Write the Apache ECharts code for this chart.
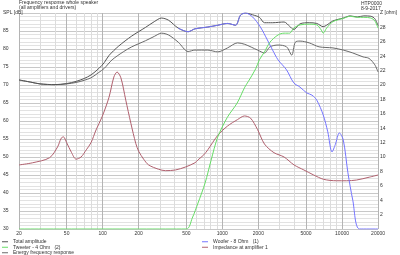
<!DOCTYPE html>
<html>
<head>
<meta charset="utf-8">
<script src="https://cdn.jsdelivr.net/npm/echarts@6/dist/echarts.min.js"></script>
<style>
html, body { margin: 0; padding: 0; background: #fff; }
#chart { width: 400px; height: 255px; }
</style>
</head>
<body>
<div id="chart"></div>
<script>
// x axis (Hz): labelled grid lines and the light lines in between
var freqLabels = [20, 50, 100, 200, 500, 1000, 2000, 5000, 10000, 20000];
var freqMinor = [30, 40, 60, 70, 80, 90, 300, 400, 600, 700, 800, 900,
    3000, 4000, 6000, 7000, 8000, 9000];

// [Hz, dB]
var totalAmp = [[20,71.4],[25,70.8],[30,70.3],[40,70.1],[50,70.4],[60,71],[70,71.8],[80,72.8],
    [93,74.6],[103,76.2],[113,78.2],[136,80.8],[175,83.6],[228,86],[270,87.6],[310,88.6],[355,88],
    [428,85.8],[518,84.8],[590,85.6],[756,86.1],[915,86.6],[1105,87.1],[1290,86.6],[1418,89.4],
    [1560,90],[1790,89.5],[2040,88.8],[2250,87.3],[2630,87.3],[3280,87.5],[3650,86.3],[3950,85.4],
    [4460,87],[5320,87.3],[6150,87.1],[6960,86.2],[7430,86.6],[8400,87.8],[10250,88.6],[11700,89.2],
    [13400,88.9],[15200,89.2],[17400,89.1],[18800,88.4],[20000,86.5]];

var energyResp = [[20,71.4],[25,70.8],[30,70.3],[40,70.1],[50,70.3],[60,70.7],[70,71.3],[80,72],
    [93,73.5],[103,74.6],[120,77],[150,79.3],[175,80.6],[228,82.3],[270,83.5],[310,84.4],[355,83.9],
    [428,81.9],[518,79.3],[590,79.7],[756,79.7],[915,79.2],[1105,80.3],[1340,81.7],[1540,81.3],
    [1970,79.7],[2250,78.9],[2500,80.6],[2920,81.1],[3440,80.6],[3800,78.3],[4070,81.9],[4460,82.2],
    [5320,81.7],[6430,80.6],[8400,80.3],[10250,79.7],[12300,78.9],[15000,77.8],[16800,77.4],
    [18800,75.6],[20000,73.6]];

var woofer = [[428,85.8],[518,84.8],[590,85.6],[756,86.1],[915,86.6],[1105,87.1],[1290,86.6],
    [1418,89.4],[1560,90],[1790,88.9],[2080,86.1],[2380,82.5],[2630,79.7],[2920,77],[3440,74.2],
    [3950,70.6],[4460,69.4],[5070,67.8],[5600,67.2],[6150,65.8],[6960,61.7],[7600,57],[8250,51.4],
    [8800,53.5],[9500,56.7],[10250,54.7],[11200,45.6],[12300,38],[14000,30],[20000,30]];

var tweeter = [[20,30],[500,30],[560,33],[626,37.2],[718,42.8],[804,49],[914,55.5],[1100,61],
    [1330,65],[1540,69.4],[1650,71],[1900,74.5],[2040,77],[2250,79.2],[2500,81.9],[2920,83.9],
    [3280,84.4],[3650,84.4],[3950,85.8],[4460,86.7],[5320,86.9],[6150,86.7],[6700,85.3],[6960,84.4],
    [7430,85.8],[8400,87.6],[10250,88.5],[11700,89.1],[13400,88.8],[15200,88.8],[17400,88.6],
    [18800,87.8],[20000,85.8]];

// [Hz, ohm]
var impedance = [[20,8.9],[26,9.2],[36,9.9],[42,11.4],[45,12.6],[47,12.8],[50,12],[55,10.6],
    [60,9.7],[66,10],[73,11],[80,12],[88,13.75],[99,15.6],[113,18.3],[124,21.1],[132,21.8],
    [142,21],[156,17.9],[172,14.7],[189,11.9],[200,10.8],[220,9.7],[242,8.9],[293,8.3],[335,8.1],
    [406,8.2],[490,8.6],[591,9.2],[626,9.6],[700,10.3],[756,11],[915,13],[1105,14.3],[1340,15.2],
    [1530,15.7],[1720,15.4],[1970,13.8],[2250,11.8],[2700,10.6],[3280,10],[3970,8.9],[4800,8.2],
    [5800,7.5],[7020,6.9],[9000,6.7],[10900,6.7],[13200,6.8],[16900,7.2],[20000,7.5]];

var txt = '#333';
var lg = Math.log10;

var chart = echarts.init(document.getElementById('chart'));

function line(name, data, color, yIdx) {
    return {
        name: name, type: 'line', data: data, xAxisIndex: 0, yAxisIndex: yIdx || 0,
        showSymbol: false, smooth: 0.3, color: color,
        lineStyle: {width: 1, color: color}
    };
}

chart.setOption({
    animation: false,
    backgroundColor: '#fff',
    title: [{
        text: 'Frequency response whole speaker',
        subtext: '(all amplifiers and drivers)',
        left: 19, top: 0, padding: 0, itemGap: 0,
        textStyle: {fontSize: 5, fontWeight: 'normal', color: txt, fontFamily: 'Liberation Sans'},
        subtextStyle: {fontSize: 5, color: txt, fontFamily: 'Liberation Sans'}
    }, {
        text: 'HTP0000',
        subtext: '8-9-2017',
        right: 18, top: 1, padding: 0, itemGap: 0,
        textStyle: {fontSize: 5, fontWeight: 'normal', color: txt, fontFamily: 'Liberation Sans'},
        subtextStyle: {fontSize: 5, color: txt, fontFamily: 'Liberation Sans'}
    }],
    legend: [{
        data: ['Total amplitude', 'Tweeter - 4 Ohm   (2)', 'Energy frequency response'],
        orient: 'vertical', left: 2, top: 239, height: 18, padding: 0, itemGap: 0,
        itemWidth: 6, itemHeight: 1, icon: 'rect',
        textStyle: {fontSize: 5, lineHeight: 5.5, color: txt, fontFamily: 'Liberation Sans'}
    }, {
        data: ['Woofer - 8 Ohm   (1)', 'Impedance at amplifier 1'],
        orient: 'vertical', left: 202, top: 239, height: 18, padding: 0, itemGap: 0,
        itemWidth: 6, itemHeight: 1, icon: 'rect',
        textStyle: {fontSize: 5, lineHeight: 5.5, color: txt, fontFamily: 'Liberation Sans'}
    }],
    grid: {left: 19, right: 17, top: 13, bottom: 26, containLabel: false},
    xAxis: [{
        // the frequency scale the curves are drawn on
        type: 'log', logBase: 10, min: 20, max: 20000, position: 'bottom',
        axisLine: {show: false}, axisTick: {show: false}, axisLabel: {show: false},
        splitLine: {show: false}
    }, {
        // labelled grid lines, same pixel range in log space
        type: 'value', min: lg(20), max: lg(20000), position: 'bottom',
        axisLine: {show: false},
        axisTick: {show: false, customValues: freqLabels.map(lg)},
        axisLabel: {
            customValues: freqLabels.map(lg), fontSize: 5, color: txt, margin: 2,
            fontFamily: 'Liberation Sans',
            formatter: function (v) { return String(Math.round(Math.pow(10, v))); }
        },
        splitLine: {show: true, lineStyle: {color: '#b4b4b4', width: 1}}
    }, {
        type: 'value', min: lg(20), max: lg(20000), position: 'bottom',
        axisLine: {show: false},
        axisTick: {show: false, customValues: freqMinor.map(lg)},
        axisLabel: {show: false},
        splitLine: {show: true, lineStyle: {color: '#dcdcdc', width: 1}}
    }],
    yAxis: [{
        type: 'value', min: 30, max: 90, interval: 5,
        axisLine: {show: false}, axisTick: {show: false},
        axisLabel: {
            fontSize: 5, color: txt, align: 'left', margin: 16, fontFamily: 'Liberation Sans',
            formatter: function (v) { return v === 90 ? 'SPL [dB]' : String(v); }
        },
        splitLine: {lineStyle: {color: '#c8c8c8', width: 1}},
        minorTick: {show: false, splitNumber: 5},
        minorSplitLine: {show: true, lineStyle: {color: '#e2e2e2', width: 1}}
    }, {
        type: 'value', min: 0, max: 30, interval: 2, position: 'right',
        axisLine: {show: false}, axisTick: {show: false},
        axisLabel: {
            fontSize: 5, color: txt, margin: 2, fontFamily: 'Liberation Sans',
            formatter: function (v) { return v === 0 ? '' : (v === 30 ? 'Z [ohm]' : String(v)); }
        },
        splitLine: {show: false}
    }],
    series: [
        line('Energy frequency response', energyResp, '#6a6a6a'),
        line('Total amplitude', totalAmp, '#555555'),
        line('Impedance at amplifier 1', impedance, '#b0606e', 1),
        line('Woofer - 8 Ohm   (1)', woofer, '#7474ff'),
        line('Tweeter - 4 Ohm   (2)', tweeter, '#66dd66')
    ]
});
</script>
</body>
</html>
